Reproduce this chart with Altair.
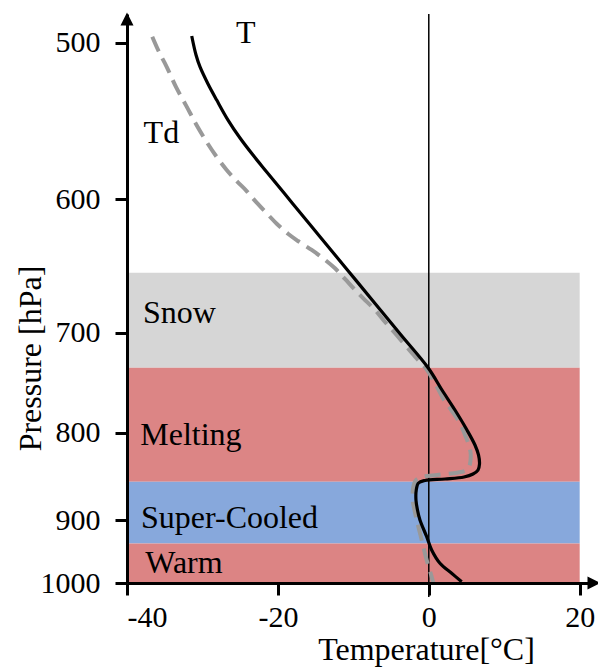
import altair as alt
import pandas as pd

# Environmental temperature profile T (°C) vs pressure (hPa)
t_temp = [-31.42, -30.85, -30.32, -29.26, -28.11, -26.61, -25.02, -23.30, -21.48, -18.00,
          -14.42, -10.84, -7.26, -3.68, -0.07, 1.75, 3.47, 5.06, 6.12, 6.59,
          6.72, 6.52, 5.86, 4.67, 2.15, -0.50, -1.37, -1.66, -1.70, -1.50,
          -1.17, -0.28, 0.38, 1.48, 3.03, 4.36]
t_pres = [495.7, 507.9, 515.5, 526.4, 536.7, 549.5, 561.0, 571.9, 582.7, 603.7,
          628.2, 652.7, 677.2, 702.3, 735.3, 757.3, 777.3, 797.3, 814.1, 825.5,
          835.9, 842.8, 847.3, 850.7, 853.0, 854.7, 857.6, 865.6, 877.1, 888.5,
          900.0, 926.5, 947.6, 968.7, 984.6, 997.9]

# Dew point profile Td (°C) vs pressure (hPa)
td_temp = [-36.65, -35.76, -34.74, -33.51, -32.09, -30.86, -29.44, -28.11, -26.79, -25.46,
           -24.14, -22.90, -21.48, -20.12, -18.62, -17.34, -15.52, -14.42, -12.43, -11.11,
           -9.78, -8.68, -7.12, -5.80, -4.47, -3.15, -1.82, -0.23, 0.95, 2.01,
           3.07, 4.14, 4.80, 5.24, 5.53, 5.55, 5.39, 4.93, 3.74, 1.09,
           -0.77, -1.70, -2.05, -2.13, -1.90, -1.60, -0.94, -0.28, 0.38, 0.60]
td_pres = [496.2, 505.9, 515.4, 528.3, 540.9, 552.0, 563.5, 573.1, 581.4, 588.5,
           594.9, 602.2, 610.7, 618.7, 626.2, 631.4, 638.1, 642.6, 651.8, 659.8,
           668.0, 674.3, 683.0, 692.0, 700.6, 712.3, 724.0, 737.3, 752.3, 767.3,
           778.3, 790.6, 802.6, 812.1, 822.1, 829.3, 838.1, 843.3, 845.8, 848.4,
           850.4, 854.2, 861.9, 877.1, 888.5, 900.0, 931.7, 963.5, 990.0, 1000.0]

# Precipitation-type layers
band_names = ["Snow", "Melting", "Super-Cooled", "Warm"]
band_top = [655.1, 735.0, 856.1, 937.4]
band_bottom = [735.0, 856.1, 937.4, 1000.0]
band_colors = ["#d6d6d6", "#dc8585", "#87a8dc", "#dc8484"]
band_tmin = [-40, -40, -40, -40]
band_tmax = [20, 20, 20, 20]

# Annotations
label_text = ["T", "Td", "Snow", "Melting", "Super-Cooled", "Warm"]
label_temp = [-25.54, -37.80, -37.88, -38.24, -38.15, -37.58]
label_pres = [500.0, 564.4, 692.5, 814.1, 913.1, 984.2]

# Axis ticks
x_ticks = [-40, -20, 0, 20]
y_ticks = [500, 600, 700, 800, 900, 1000]

FONT = "Liberation Serif"
W, H = 464, 569

xscale = alt.Scale(domain=[-40, 21.5], nice=False, zero=False)
yscale = alt.Scale(domain=[481.6, 500, 600, 700, 800, 900, 1000],
                   range=[0, 28.7, 185, 318.7, 418.7, 506, 569],
                   nice=False, zero=False)

xaxis = alt.Axis(values=x_ticks, labelExpr="'' + datum.value", title="Temperature[°C]",
                 tickSize=12, labelPadding=7, titleX=299, titleY=76,
                 titleAlign="center", titleBaseline="alphabetic", grid=False, zindex=1)
yaxis = alt.Axis(values=y_ticks, labelExpr="'' + datum.value", title="Pressure [hPa]",
                 tickSize=12, labelPadding=15, titleX=-87, titleY=344, titleAngle=270,
                 titleAlign="center", titleBaseline="alphabetic", grid=False, zindex=1)

bands_df = pd.DataFrame({"name": band_names, "top": band_top, "bottom": band_bottom,
                         "t1": band_tmin, "t2": band_tmax})
t_df = pd.DataFrame({"temp": t_temp, "pres": t_pres, "idx": range(len(t_temp))})
td_df = pd.DataFrame({"temp": td_temp, "pres": td_pres, "idx": range(len(td_temp))})
lab_df = pd.DataFrame({"text": label_text, "temp": label_temp, "pres": label_pres})

bands = alt.Chart(bands_df).mark_rect().encode(
    x=alt.X("t1:Q", scale=xscale, axis=xaxis),
    x2="t2:Q",
    y=alt.Y("top:Q", scale=yscale, axis=yaxis),
    y2="bottom:Q",
    color=alt.Color("name:N", scale=alt.Scale(domain=band_names, range=band_colors), legend=None),
)

zero = alt.Chart(pd.DataFrame({"z": [0]})).mark_rule(color="black", strokeWidth=1.5).encode(
    x=alt.X("z:Q", scale=xscale, axis=xaxis),
    y=alt.value(0),
    y2=alt.value(583),
)

td_line = alt.Chart(td_df).mark_line(color="#999999", strokeWidth=4, strokeDash=[16, 8],
                                     interpolate="catmull-rom").encode(
    x=alt.X("temp:Q", scale=xscale, axis=xaxis),
    y=alt.Y("pres:Q", scale=yscale, axis=yaxis),
    order="idx:Q",
)

t_line = alt.Chart(t_df).mark_line(color="black", strokeWidth=3.2,
                                   interpolate="catmull-rom").encode(
    x=alt.X("temp:Q", scale=xscale, axis=xaxis),
    y=alt.Y("pres:Q", scale=yscale, axis=yaxis),
    order="idx:Q",
)

labels = alt.Chart(lab_df).mark_text(align="left", baseline="alphabetic", font=FONT,
                                     fontSize=32, color="black").encode(
    x=alt.X("temp:Q", scale=xscale, axis=xaxis),
    y=alt.Y("pres:Q", scale=yscale, axis=yaxis),
    text="text:N",
)

arrow_df = pd.DataFrame({"a": [0]})
arrow_up = alt.Chart(arrow_df).mark_point(shape="M0,-1L-1,1L1,1Z", filled=True, size=169,
                                          color="black", opacity=1, strokeWidth=0).encode(
    x=alt.value(0), y=alt.value(5))
arrow_right = alt.Chart(arrow_df).mark_point(shape="M1,0L-1,-1L-1,1Z", filled=True, size=169,
                                             color="black", opacity=1, strokeWidth=0).encode(
    x=alt.value(467), y=alt.value(H))

chart = alt.layer(bands, zero, td_line, t_line, labels, arrow_up, arrow_right).properties(
    width=W, height=H,
    padding={"left": 127, "top": 14, "right": 7, "bottom": 87},
    autosize=alt.AutoSizeParams(type="none"),
).configure_view(stroke=None).configure_axis(
    domainColor="black", domainWidth=3, tickColor="black", tickWidth=3,
    labelFont=FONT, labelFontSize=30, labelColor="black",
    titleFont=FONT, titleFontSize=32, titleColor="black", titleFontWeight="normal",
)

chart.save("out.html", embed_options={"renderer": "svg", "actions": False})
